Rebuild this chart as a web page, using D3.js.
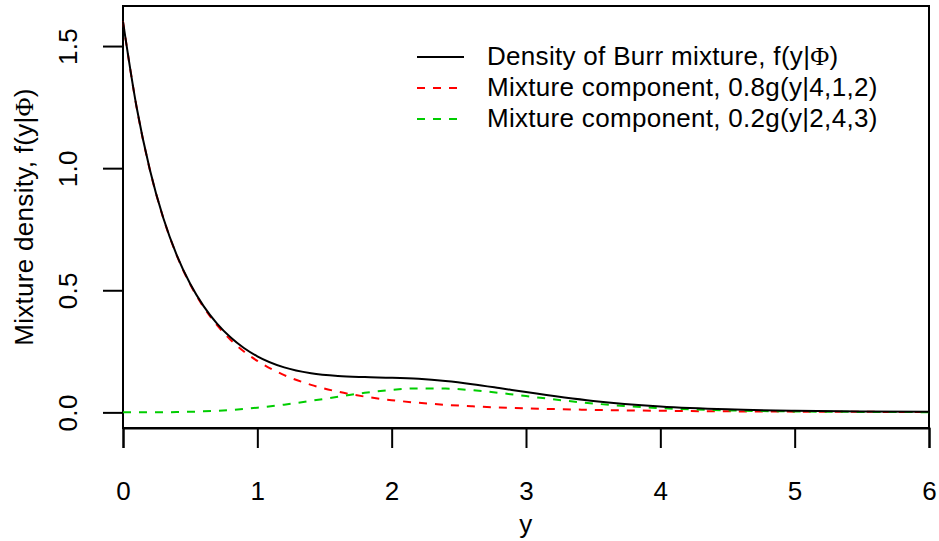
<!DOCTYPE html>
<html>
<head>
<meta charset="utf-8">
<script src="https://cdn.jsdelivr.net/npm/d3@7"></script>
<style>
  body { margin: 0; background: #fff; }
  text { font-family: "Liberation Sans", Arial, sans-serif; fill: #000; letter-spacing: 0.3px; }
  .phi { font-family: "Liberation Serif", "DejaVu Serif", serif; }
</style>
</head>
<body>
<div id="chart"></div>
<script>
// values
const yGrid = [0, 0.1, 0.2, 0.3, 0.4, 0.5, 0.6, 0.7, 0.8, 0.9, 1.0,
  1.2, 1.4, 1.6, 1.8, 2.0, 2.2, 2.4, 2.6, 2.8, 3.0, 3.5, 4.0, 4.5, 5.0, 5.5, 6.0];
const mixtureDensity = [1.6, 1.2536, 0.9937, 0.796, 0.6443, 0.5268, 0.4351, 0.3635, 0.3075, 0.2637, 0.2297,
  0.1842, 0.1599, 0.1488, 0.1445, 0.142, 0.1374, 0.1285, 0.1156, 0.0998, 0.0831, 0.0467, 0.0242, 0.0123, 0.0067, 0.004, 0.0025];
const component1 = [1.6, 1.2536, 0.9935, 0.7955, 0.643, 0.5243, 0.4309, 0.3568, 0.2975, 0.2496, 0.2107,
  0.1526, 0.1127, 0.0847, 0.0646, 0.05, 0.0392, 0.031, 0.0249, 0.0201, 0.0164, 0.0102, 0.0066, 0.0042, 0.003, 0.0022, 0.0016];
const component2 = [0, 0.00002, 0.00016, 0.00053, 0.00126, 0.00246, 0.00425, 0.00671, 0.00996, 0.01406, 0.01904,
  0.03164, 0.04716, 0.06406, 0.07993, 0.09203, 0.09815, 0.09749, 0.09072, 0.0797, 0.06667, 0.03649, 0.01755, 0.00808, 0.00373, 0.00177, 0.00087];
const xTicks = [0, 1, 2, 3, 4, 5, 6];
const yTicks = [0, 0.5, 1.0, 1.5];
// [text before Φ, Φ, text after]
const legendLabels = [
  ["Density of Burr mixture, f(y|", "\u03A6", ")"],
  ["Mixture component, 0.8g(y|4,1,2)", "", ""],
  ["Mixture component, 0.2g(y|2,4,3)", "", ""]
];

const width = 939, height = 541;
const plot = { left: 123, right: 929, top: 6, bottom: 428 };
const fontSize = 26;

const svg = d3.select("#chart").append("svg")
  .attr("width", width)
  .attr("height", height);

const x = d3.scaleLinear().domain([0, 6]).range([plot.left, plot.right]);
const y = d3.scaleLinear().domain([-0.064, 1.664]).range([plot.bottom, plot.top]);

// box
svg.append("rect")
  .attr("x", plot.left).attr("y", plot.top)
  .attr("width", plot.right - plot.left).attr("height", plot.bottom - plot.top)
  .attr("fill", "none").attr("stroke", "#000").attr("stroke-width", 2);

// x axis
const xAxis = svg.append("g")
  .attr("transform", `translate(0,${plot.bottom})`)
  .call(d3.axisBottom(x).tickValues(xTicks).tickFormat(d3.format("d")).tickSize(20));
xAxis.select(".domain").attr("stroke-width", 2);
xAxis.selectAll(".tick line").attr("stroke-width", 2);
xAxis.selectAll(".tick text")
  .attr("y", 72).attr("dy", 0)
  .attr("font-size", fontSize)
  .attr("font-family", "Liberation Sans, Arial, sans-serif");

// y axis
const yAxis = svg.append("g")
  .attr("transform", `translate(${plot.left},0)`)
  .call(d3.axisLeft(y).tickValues(yTicks).tickFormat(d3.format(".1f")).tickSize(20));
yAxis.select(".domain").remove();
yAxis.selectAll(".tick line").attr("stroke-width", 2);
yAxis.selectAll(".tick text")
  .attr("x", 0).attr("dy", 0)
  .attr("transform", "translate(-46,0) rotate(-90)")
  .attr("text-anchor", "middle")
  .attr("font-size", fontSize)
  .attr("font-family", "Liberation Sans, Arial, sans-serif");
yAxis.append("line")
  .attr("x1", 0).attr("x2", 0)
  .attr("y1", y(0)).attr("y2", y(1.5))
  .attr("stroke", "#000").attr("stroke-width", 2);

// axis titles
svg.append("text")
  .attr("x", (plot.left + plot.right) / 2)
  .attr("y", 533)
  .attr("text-anchor", "middle")
  .attr("font-size", fontSize)
  .text("y");

const yTitle = svg.append("text")
  .attr("transform", `translate(33,${(plot.top + plot.bottom) / 2}) rotate(-90)`)
  .attr("text-anchor", "middle")
  .attr("font-size", fontSize);
yTitle.append("tspan").text("Mixture density, f(y|");
yTitle.append("tspan").attr("class", "phi").text("\u03A6");
yTitle.append("tspan").text(")");

// curves
const series = [
  { values: mixtureDensity, color: "#000000", dash: null },
  { values: component1, color: "#ff0000", dash: "8,8" },
  { values: component2, color: "#00cd00", dash: "8,8" }
];

const line = d3.line()
  .x(d => x(d[0]))
  .y(d => y(d[1]))
  .curve(d3.curveMonotoneX);

const curves = svg.append("g");
// components first, mixture drawn on top
[series[1], series[2], series[0]].forEach(s => {
  curves.append("path")
    .datum(yGrid.map((g, i) => [g, s.values[i]]))
    .attr("d", line)
    .attr("fill", "none")
    .attr("stroke", s.color)
    .attr("stroke-width", 2)
    .attr("stroke-dasharray", s.dash);
});

// legend
const legend = svg.append("g").attr("transform", "translate(417,57)");
series.forEach((s, i) => {
  const row = legend.append("g").attr("transform", `translate(0,${i * 31})`);
  row.append("line")
    .attr("x1", 0).attr("x2", 47)
    .attr("stroke", s.color)
    .attr("stroke-width", 2)
    .attr("stroke-dasharray", s.dash);
  const t = row.append("text")
    .attr("x", 70)
    .attr("y", 8)
    .attr("font-size", fontSize);
  const [pre, sym, post] = legendLabels[i];
  t.append("tspan").text(pre);
  if (sym) t.append("tspan").attr("class", "phi").text(sym);
  if (post) t.append("tspan").text(post);
});
</script>
</body>
</html>
